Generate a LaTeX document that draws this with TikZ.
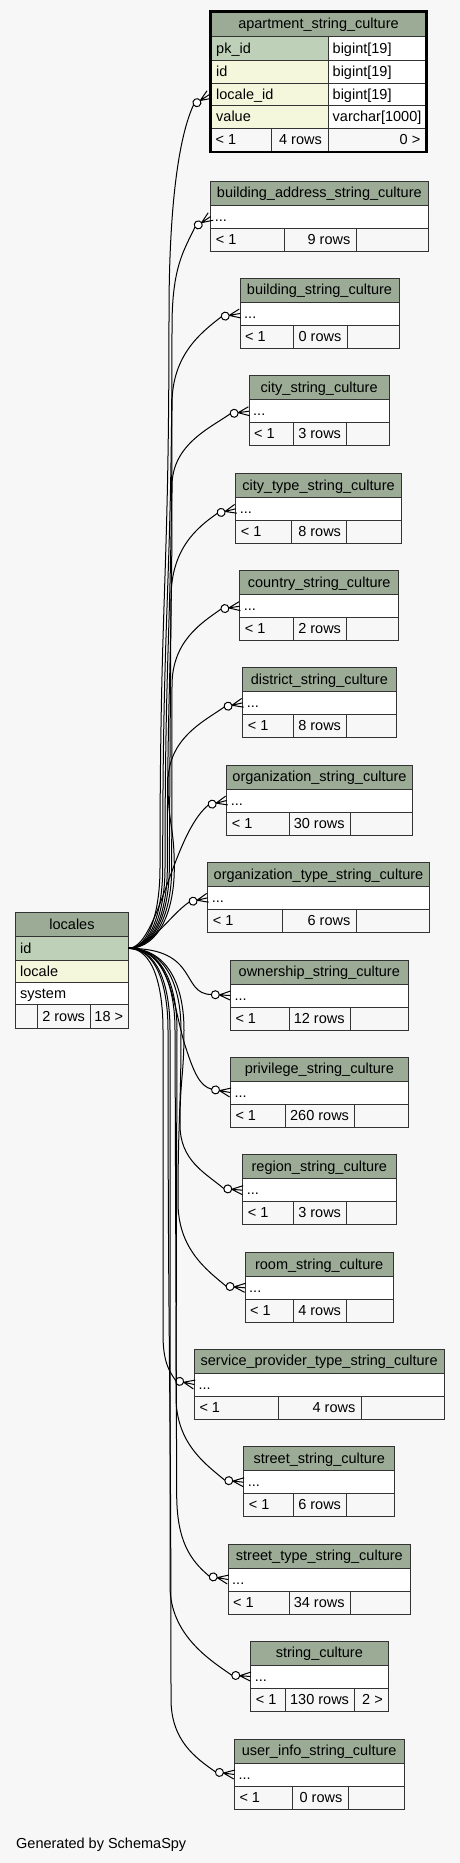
\documentclass[tikz,border=0pt]{standalone}
\usepackage{fontspec}
\setmainfont{Liberation Sans}
\usetikzlibrary{calc}
\definecolor{bgc}{HTML}{F7F7F7}
\definecolor{hdrc}{HTML}{9BAB96}
\definecolor{pkc}{HTML}{BED1B8}
\definecolor{idxc}{HTML}{F5F7DC}
\definecolor{linec}{HTML}{333333}
\newcommand\tblfont{\fontsize{14.5}{17}\selectfont}
\tikzset{
  tl/.style={draw=linec, line width=1pt},
  lt/.style={inner sep=0pt, anchor=base west, font=\tblfont, text=black},
  rt/.style={inner sep=0pt, anchor=base east, font=\tblfont, text=black},
  ct/.style={inner sep=0pt, anchor=base, font=\tblfont, text=black},
  fk/.style={draw=black, line width=1pt},
  crowodot/.pic={
    \draw[fk] (-11,0) -- (0,0) (-11,0) -- (0,-4.5) (-11,0) -- (0,4.5);
    \draw[fk, fill=white] (-15,0) circle[radius=4];
  }
}
% small table: #1 name #2 xl #3 xr #4 ytop #5 title #6 s1 #7 s2 #8 rows #9 right
\newcommand\stab[9]{%
  \fill[hdrc] (#2,#4) rectangle (#3,#4+24);
  \fill[white] (#2,#4+24) rectangle (#3,#4+47);
  \fill[bgc] (#2,#4+47) rectangle (#3,#4+70);
  \draw[tl] (#2,#4) rectangle (#3,#4+70);
  \draw[tl] (#2,#4+24) -- (#3,#4+24) (#2,#4+47) -- (#3,#4+47)
            (#6,#4+47) -- (#6,#4+70) (#7,#4+47) -- (#7,#4+70);
  \node[ct] (#1) at ({(#2+#3)/2},#4+16.7) {#5};
  \node[lt] (#1-dots) at (#2+4,#4+40.2) {...};
  \node[lt] (#1-lo) at (#2+5,#4+63.2) {< 1};
  \node[rt] (#1-rows) at (#7-5.5,#4+63.2) {#8};
  \node[rt] (#1-hi) at (#3-5,#4+63.2) {#9};
  \coordinate (#1-in) at (#2,#4+35.5);
}
% crow's foot + circle at a table entry; #1 name #2 angle (pixel frame)
\newcommand\crow[2]{\pic[rotate={-(#2)}] at (#1-in) {crowodot};}
% upward edge: #1 name #2 xa #3 xb #4 row y #5 crow angle #6 H #7 end angle #8 k
\newcommand\upedge[8]{%
  \draw[fk] (loc-port) .. controls ({128.3+0.7*(#2-128.3)},948.3) and (#2,908) .. (#2,868)
     .. controls (#2,{(868+#4+#6)/2}) and (#3,{(868+#4+#6)/2}) .. (#3,#4+#6)
     .. controls (#3,{#4+0.45*#6}) and +({#7+180}:#8) .. ($(#1-in)+({#5+180}:19)$);
  \crow{#1}{#5}
}
% downward edge: #1 name #2 xa #3 xb #4 row y #5 crow angle #6 H #7 end angle #8 k
\newcommand\downedge[8]{%
  \draw[fk] (loc-port) .. controls ({128.3+0.7*(#2-128.3)},948.3) and (#2,985) .. (#2,1030)
     .. controls (#2,{(1030+#4-#6)/2}) and (#3,{(1030+#4-#6)/2}) .. (#3,#4-#6)
     .. controls (#3,{#4-0.45*#6}) and +({#7+180}:#8) .. ($(#1-in)+({#5+180}:19)$);
  \crow{#1}{#5}
}
\begin{document}
\begin{tikzpicture}[x=1pt,y=1pt,yscale=-1]
\useasboundingbox (0,0) rectangle (460,1863);
\fill[bgc] (0,0) rectangle (460,1863);

% apartment_string_culture (selected table)
\fill[hdrc] (210.7,11.3) rectangle (426.4,36.7);
\fill[pkc] (210.7,36.7) rectangle (328,60);
\fill[idxc] (210.7,60) rectangle (328,128);
\fill[white] (328,36.7) rectangle (426.4,128);
\fill[bgc] (210.7,128) rectangle (426.4,152);
\draw[tl] (210.7,36.7) -- (426.4,36.7) (210.7,60) -- (426.4,60) (210.7,83) -- (426.4,83)
          (210.7,105.5) -- (426.4,105.5) (210.7,128) -- (426.4,128)
          (328,36.7) -- (328,152) (271,128) -- (271,152);
\draw[draw=black, line width=2.6pt] (210.7,11.3) rectangle (426.4,152);
\node[ct] (apt) at (318.5,28.5) {apartment\_string\_culture};
\node[lt] (apt-pk) at (216,53) {pk\_id};
\node[lt] (apt-pkt) at (332.5,53) {bigint[19]};
\node[lt] (apt-id) at (216,76.2) {id};
\node[lt] (apt-idt) at (332.5,76.2) {bigint[19]};
\node[lt] (apt-loc) at (216,99) {locale\_id};
\node[lt] (apt-loct) at (332.5,99) {bigint[19]};
\node[lt] (apt-val) at (216,121.5) {value};
\node[lt] (apt-valt) at (332.5,121.5) {varchar[1000]};
\node[lt] (apt-lo) at (215.5,144.2) {< 1};
\node[rt] (apt-rows) at (322,144.2) {4 rows};
\node[rt] (apt-hi) at (420.5,144.2) {0 >};
\coordinate (apt-in) at (209.5,94.5);

% locales
\fill[hdrc] (15.7,912.7) rectangle (128.3,936.7);
\fill[pkc] (15.7,936.7) rectangle (128.3,960);
\fill[idxc] (15.7,960) rectangle (128.3,982.7);
\fill[white] (15.7,982.7) rectangle (128.3,1004.3);
\fill[bgc] (15.7,1004.3) rectangle (128.3,1028.3);
\draw[tl] (15.7,912.7) rectangle (128.3,1028.3);
\draw[tl] (15.7,936.7) -- (128.3,936.7) (15.7,960) -- (128.3,960) (15.7,982.7) -- (128.3,982.7)
          (15.7,1004.3) -- (128.3,1004.3) (37.3,1004.3) -- (37.3,1028.3) (90.7,1004.3) -- (90.7,1028.3);
\node[ct] (loc) at (72,929.4) {locales};
\node[lt] (loc-id) at (20,953) {id};
\node[lt] (loc-locale) at (20,976) {locale};
\node[lt] (loc-system) at (20,998.2) {system};
\node[rt] (loc-rows) at (85.2,1021) {2 rows};
\node[rt] (loc-hi) at (123.3,1021) {18 >};
\coordinate (loc-port) at (128.3,948.3);

% child tables
\stab{baddr}{210.7}{428}{181}{building\_address\_string\_culture}{284}{356}{9 rows}{}
\stab{bstr}{240}{399}{278}{building\_string\_culture}{293.3}{347}{0 rows}{}
\stab{city}{249}{389.3}{375.7}{city\_string\_culture}{293.3}{346.7}{3 rows}{}
\stab{citytype}{235.7}{401.3}{473.3}{city\_type\_string\_culture}{291.7}{346.7}{8 rows}{}
\stab{country}{239.7}{398.7}{570.7}{country\_string\_culture}{293.3}{346.7}{2 rows}{}
\stab{district}{242.7}{396}{667.3}{district\_string\_culture}{293.3}{346.7}{8 rows}{}
\stab{org}{226.7}{412.3}{765}{organization\_string\_culture}{289.3}{350.3}{30 rows}{}
\stab{orgtype}{207.7}{429.3}{862.3}{organization\_type\_string\_culture}{282.7}{356}{6 rows}{}
\stab{owner}{230.3}{408.3}{960}{ownership\_string\_culture}{289}{350.3}{12 rows}{}
\stab{priv}{230.3}{408.3}{1057}{privilege\_string\_culture}{285.3}{354.7}{260 rows}{}
\stab{region}{242.7}{396}{1154.7}{region\_string\_culture}{293.3}{346.7}{3 rows}{}
\stab{room}{245}{393.3}{1252.3}{room\_string\_culture}{293.3}{346.7}{4 rows}{}
\stab{sp}{194.3}{444}{1349}{service\_provider\_type\_string\_culture}{278.7}{361}{4 rows}{}
\stab{street}{243.7}{394.7}{1446.7}{street\_string\_culture}{293.3}{346.7}{6 rows}{}
\stab{streettype}{228}{410.7}{1544}{street\_type\_string\_culture}{289.3}{350.3}{34 rows}{}
\stab{string}{250.7}{388}{1641}{string\_culture}{285.3}{354.7}{130 rows}{2 >}
\stab{userinfo}{234.3}{404}{1739}{user\_info\_string\_culture}{292}{348}{0 rows}{}

% connectors
\upedge{apt}{160}{169}{94.5}{-33}{220}{-65}{30}
\upedge{baddr}{162.7}{172}{216.5}{-34}{110}{-65}{25}
\upedge{bstr}{165}{172}{314}{-10}{90}{-38}{25}
\upedge{city}{167.3}{172}{411}{-8}{75}{-35}{25}
\upedge{citytype}{169.3}{171}{508.3}{-14}{90}{-35}{25}
\upedge{country}{171.7}{172}{605.7}{-9}{80}{-35}{25}
\upedge{district}{174.3}{168}{702.3}{-13}{80}{-35}{25}
\draw[fk] (loc-port) .. controls (158,948.3) and (172,835) .. ($(org-in)+(166:19)$);
\crow{org}{-14}
\draw[fk] (loc-port) .. controls (150,948.3) and (170,915) .. ($(orgtype-in)+(167:19)$);
\crow{orgtype}{-13}
\draw[fk] (loc-port) .. controls (200,948.3) and (180,994) .. ($(owner-in)+(183:19)$);
\crow{owner}{3}
\draw[fk] (loc-port) .. controls (170,948.3) and (172,1000) .. (184,1042)
   .. controls (194,1074) and (200,1086) .. ($(priv-in)+(190:19)$);
\crow{priv}{10}
\downedge{region}{184}{180}{1189.7}{5}{65}{40}{25}
\downedge{room}{181}{178}{1287.3}{5}{85}{40}{25}
\downedge{sp}{163}{163}{1384}{12}{50}{55}{12}
\downedge{street}{177}{176}{1481.7}{6}{85}{40}{25}
\downedge{streettype}{175}{176.7}{1579}{10}{85}{40}{25}
\downedge{string}{170}{170}{1676}{4}{90}{35}{25}
\downedge{userinfo}{168}{171}{1774}{8}{75}{35}{25}

\node[lt] (gen) at (16,1848) {Generated by SchemaSpy};
\end{tikzpicture}
\end{document}
